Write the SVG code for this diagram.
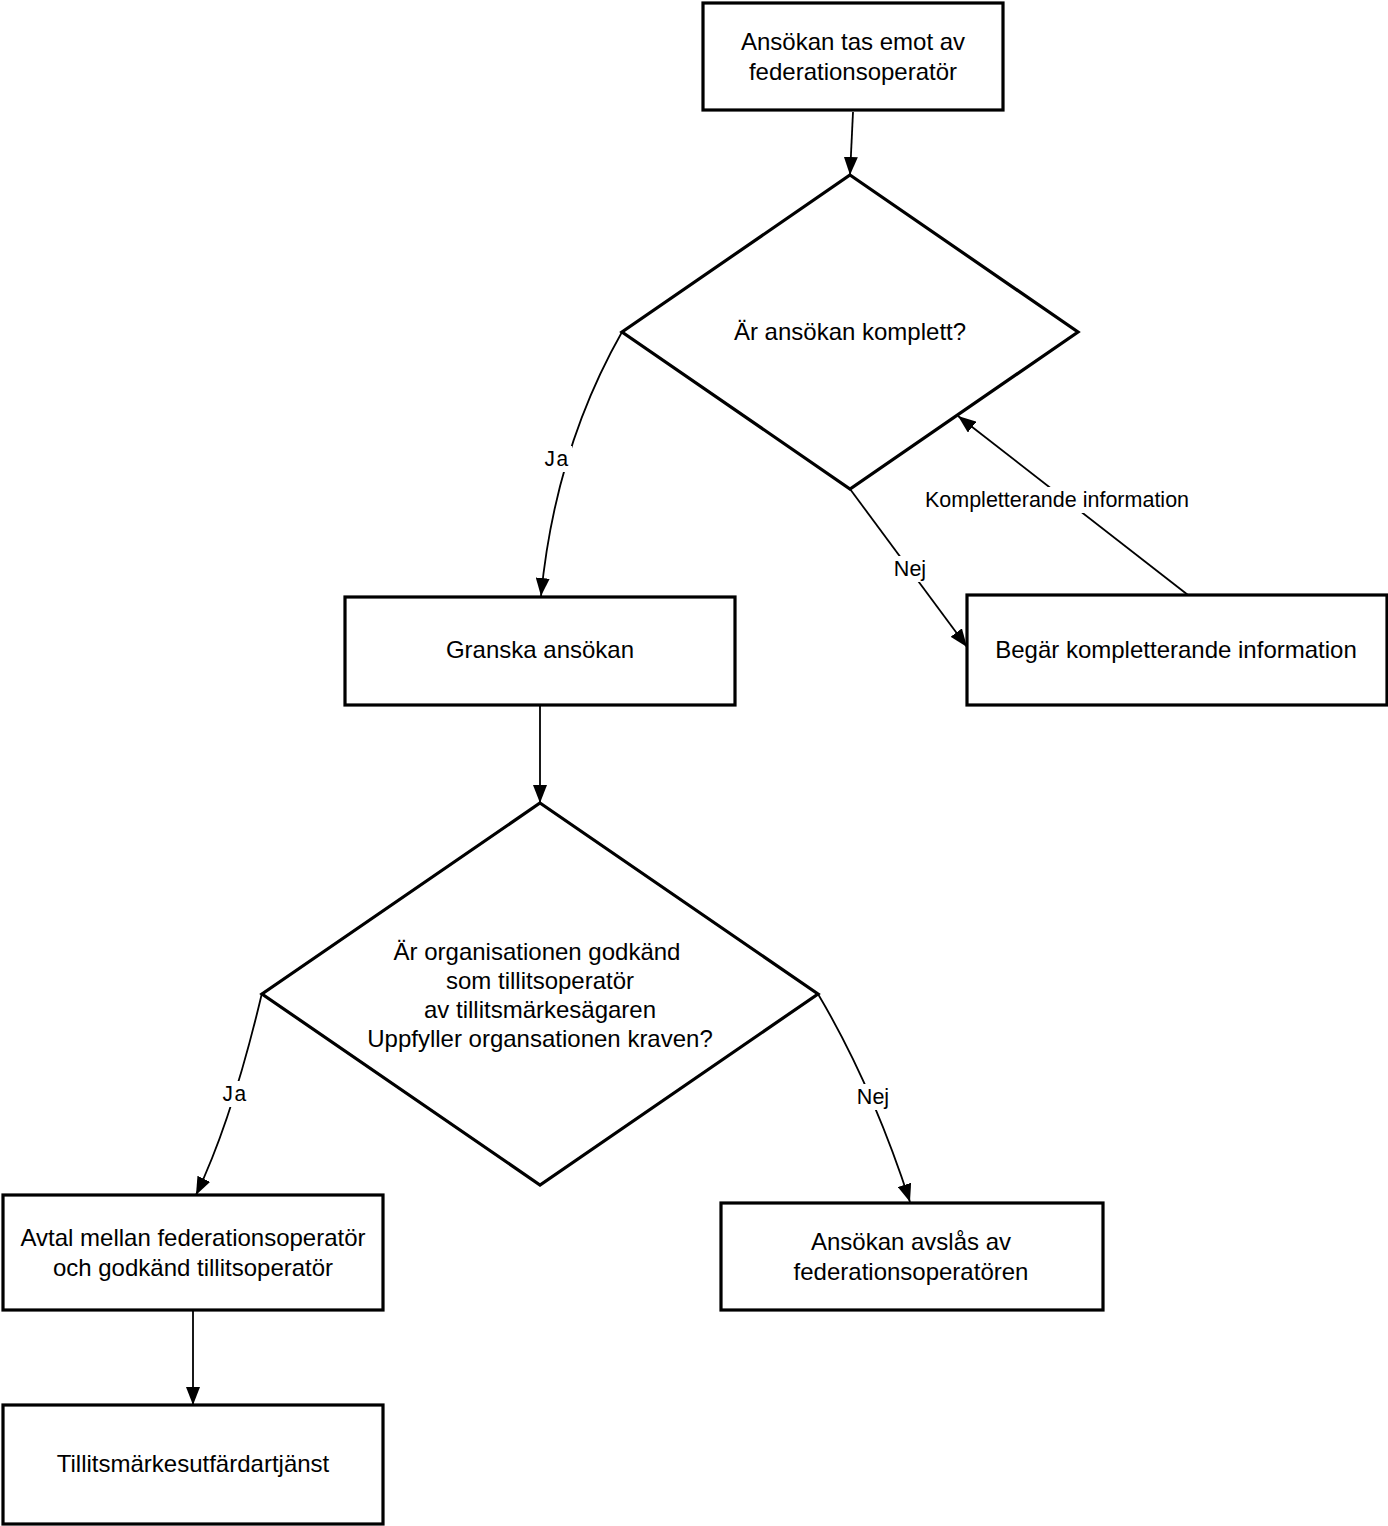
<svg xmlns="http://www.w3.org/2000/svg" width="1388" height="1526" viewBox="0 0 1388 1526">
<style>
.n{fill:#fff;stroke:#000;stroke-width:3.2}
.t{font-family:"Liberation Sans",Arial,sans-serif;font-size:24px;fill:#000;text-anchor:middle}
.e{fill:none;stroke:#000;stroke-width:1.8}
.l{font-family:"Liberation Sans",Arial,sans-serif;font-size:21.5px;fill:#000;text-anchor:middle}
.lm{font-family:"Liberation Mono","DejaVu Sans Mono",monospace;font-size:21.5px;fill:#000;text-anchor:middle}
.bg{fill:#fff}
</style>
<defs>
<marker id="a" viewBox="0 0 18 14" refX="18" refY="7" markerWidth="18" markerHeight="14" markerUnits="userSpaceOnUse" orient="auto">
<path d="M0,0 L18,7 L0,14 Z" fill="#000"/>
</marker>
</defs>
<rect width="1388" height="1526" fill="#fff"/>
<g id="connectors">
<path class="e" d="M853,112 L850,175" marker-end="url(#a)"/>
<path class="e" d="M622,332 Q555,450 541,596" marker-end="url(#a)"/>
<path class="e" d="M850,489 L967,647" marker-end="url(#a)"/>
<path class="e" d="M1188,595 L958,416" marker-end="url(#a)"/>
<path class="e" d="M540,705 L540,803" marker-end="url(#a)"/>
<path class="e" d="M262,993 Q232,1120 196,1195" marker-end="url(#a)"/>
<path class="e" d="M818,994 Q872,1085 910,1202" marker-end="url(#a)"/>
<path class="e" d="M193,1311 L193,1405" marker-end="url(#a)"/>
<rect class="bg" x="540" y="446" width="32" height="26"/>
<text class="lm" x="556" y="466">Ja</text>
<rect class="bg" x="891" y="556" width="40" height="26"/>
<text class="l" x="910" y="576">Nej</text>
<rect class="bg" x="922" y="487" width="270" height="26"/>
<text class="l" x="1057" y="507">Kompletterande information</text>
<rect class="bg" x="218" y="1081" width="32" height="26"/>
<text class="lm" x="234" y="1101">Ja</text>
<rect class="bg" x="853" y="1084" width="40" height="26"/>
<text class="l" x="873" y="1104">Nej</text>
</g>
<g id="n1">
<rect class="n" x="703" y="3" width="300" height="107"/>
<text class="t" x="853" y="50">Ansökan tas emot av</text>
<text class="t" x="853" y="80">federationsoperatör</text>
</g>
<g id="d1">
<polygon class="n" points="850,175 1078,332 850,489 622,332"/>
<text class="t" x="850" y="340">Är ansökan komplett?</text>
</g>
<g id="n2">
<rect class="n" x="345" y="597" width="390" height="108"/>
<text class="t" x="540" y="658">Granska ansökan</text>
</g>
<g id="n3">
<rect class="n" x="967" y="595" width="420" height="110"/>
<text class="t" x="1176" y="658">Begär kompletterande information</text>
</g>
<g id="d2">
<polygon class="n" points="540,803 818,994 540,1185 262,994"/>
<text class="t" x="537" y="960">Är organisationen godkänd</text>
<text class="t" x="540" y="989">som tillitsoperatör</text>
<text class="t" x="540" y="1018">av tillitsmärkesägaren</text>
<text class="t" x="540" y="1047">Uppfyller organsationen kraven?</text>
</g>
<g id="n4">
<rect class="n" x="3" y="1195" width="380" height="115"/>
<text class="t" x="193" y="1246">Avtal mellan federationsoperatör</text>
<text class="t" x="193" y="1276">och godkänd tillitsoperatör</text>
</g>
<g id="n5">
<rect class="n" x="721" y="1203" width="382" height="107"/>
<text class="t" x="911" y="1250">Ansökan avslås av</text>
<text class="t" x="911" y="1280">federationsoperatören</text>
</g>
<g id="n6">
<rect class="n" x="3" y="1405" width="380" height="119"/>
<text class="t" x="193" y="1472">Tillitsmärkesutfärdartjänst</text>
</g>
</svg>
